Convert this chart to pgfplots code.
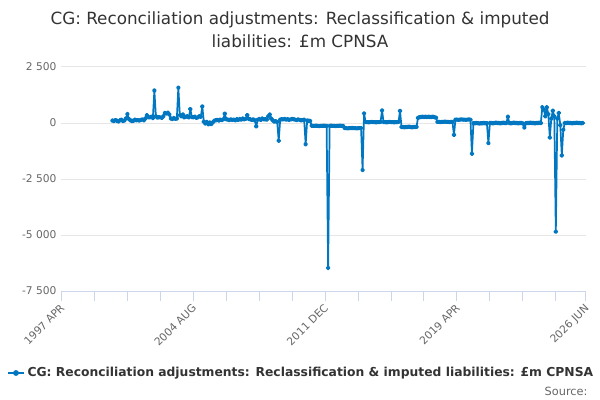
\documentclass[border=0pt]{standalone}
\usepackage{pgfplots}
\pgfplotsset{compat=1.18}
\usepackage{fontspec}
\setmainfont{DejaVu Sans}
\definecolor{serie}{RGB}{0,119,192}
\definecolor{titlec}{RGB}{51,51,51}
\definecolor{labc}{RGB}{102,102,102}
\definecolor{gridc}{RGB}{230,230,230}
\definecolor{axisc}{RGB}{204,214,235}
\begin{document}
\begin{tikzpicture}
\path[use as bounding box] (-46.125pt,-81.75pt) rectangle (403.875pt,218.25pt);
\begin{axis}[
  scale only axis, width=393.2pt, height=168pt,
  xmin=0, xmax=350, ymin=-7500, ymax=2500,
  axis line style={draw=none},
  xtick={0,88,176,264,350},
  xticklabels={1997 APR,2004 AUG,2011 DEC,2019 APR,2026 JUN},
  minor xtick={22,44,66,110,132,154,198,220,242,286,308,330},
  ytick={-7500,-5000,-2500,0,2500},
  yticklabels={-7 500,-5 000,-2 500,0,2 500},
  xtick pos=left, ytick pos=left,
  tick align=outside, major tick length=7.5pt, minor tick length=7.5pt,
  x tick style={draw=axisc, line width=0.75pt},
  minor x tick style={draw=axisc, line width=0.75pt},
  y tick style={draw=none},
  ymajorgrids, major grid style={draw=gridc, line width=0.75pt},
  tick label style={font=\fontsize{8}{9}\selectfont, text=labc},
  x tick label style={rotate=45, anchor=north east, inner sep=1pt, xshift=-1pt, yshift=1pt},
  y tick label style={xshift=7.3pt},
  legend style={at={(0.4577,-0.366)}, anchor=center, draw=none, fill=none,
    font=\bfseries\fontsize{9.25}{11}\selectfont, text=titlec},
  legend image code/.code={\draw[serie, line width=1.3pt] (0pt,0pt) -- (12pt,0pt); \fill[serie] (6pt,0pt) circle (1.5pt);},
]
\draw[axisc, line width=0.75pt] (rel axis cs:0,0) -- (rel axis cs:1,0);
\addplot[color=serie, line width=1.3pt, line join=round, mark=*, mark size=1.1pt, mark options={solid}] coordinates {
(34,110)(35,90)(36,130)(37,100)(38,70)(39,120)(40,150)(41,90)(42,110)(43,200)
(44,400)(45,180)(46,120)(47,90)(48,100)(49,150)(50,120)(51,130)(52,110)(53,140)
(54,160)(55,120)(56,200)(57,350)(58,260)(59,250)(60,280)(61,220)(62,1450)(63,300)
(64,240)(65,260)(66,250)(67,230)(68,300)(69,450)(70,420)(71,460)(72,380)(73,200)
(74,180)(75,220)(76,190)(77,200)(78,1580)(79,350)(80,300)(81,380)(82,250)(83,280)
(84,300)(85,250)(86,620)(87,270)(88,260)(89,280)(90,230)(91,250)(92,300)(93,280)
(94,740)(95,60)(96,-20)(97,50)(98,-60)(99,20)(100,-50)(101,30)(102,100)(103,120)
(104,140)(105,110)(106,150)(107,130)(108,160)(109,420)(110,170)(111,150)(112,130)(113,160)
(114,140)(115,150)(116,120)(117,170)(118,140)(119,180)(120,150)(121,200)(122,160)(123,190)
(124,350)(125,180)(126,170)(127,140)(128,160)(129,120)(130,-150)(131,150)(132,180)(133,140)
(134,200)(135,160)(136,170)(137,150)(138,300)(139,380)(140,200)(141,120)(142,60)(143,80)
(144,50)(145,-790)(146,150)(147,170)(148,160)(149,180)(150,150)(151,170)(152,140)(153,160)
(154,180)(155,170)(156,150)(157,130)(158,160)(159,140)(160,120)(161,130)(162,150)(163,-950)
(164,110)(165,100)(166,90)(167,-120)(168,-130)(169,-130)(170,-120)(171,-130)(172,-140)(173,-130)
(174,-130)(175,-120)(176,-130)(177,-130)(178,-6470)(179,-130)(180,-120)(181,-130)(182,-130)(183,-140)
(184,-130)(185,-130)(186,-120)(187,-130)(188,-130)(189,-230)(190,-230)(191,-240)(192,-230)(193,-230)
(194,-220)(195,-230)(196,-230)(197,-240)(198,-230)(199,-230)(200,-230)(201,-2100)(202,430)(203,40)
(204,40)(205,30)(206,40)(207,50)(208,40)(209,40)(210,30)(211,40)(212,40)(213,50)
(214,560)(215,40)(216,40)(217,30)(218,40)(219,50)(220,40)(221,40)(222,30)(223,40)
(224,40)(225,50)(226,540)(227,-180)(228,-180)(229,-190)(230,-180)(231,-180)(232,-170)(233,-180)
(234,-190)(235,-180)(236,-180)(237,-170)(238,230)(239,260)(240,270)(241,280)(242,270)(243,280)
(244,270)(245,280)(246,270)(247,270)(248,280)(249,260)(250,240)(251,50)(252,50)(253,40)
(254,50)(255,50)(256,60)(257,50)(258,50)(259,40)(260,50)(261,50)(262,-530)(263,150)
(264,150)(265,140)(266,150)(267,160)(268,150)(269,150)(270,140)(271,150)(272,160)(273,150)
(274,-1370)(275,-10)(276,-10)(277,0)(278,-10)(279,-20)(280,-10)(281,-10)(282,0)(283,-10)
(284,-10)(285,-900)(286,0)(287,0)(288,-10)(289,0)(290,10)(291,0)(292,0)(293,-10)
(294,0)(295,10)(296,0)(297,0)(298,280)(299,0)(300,-10)(301,0)(302,10)(303,0)
(304,0)(305,-10)(306,0)(307,0)(308,-20)(309,-200)(310,-10)(311,0)(312,0)(313,10)
(314,0)(315,0)(316,-10)(317,0)(318,0)(319,10)(320,0)(321,700)(322,600)(323,300)
(324,700)(325,400)(326,-650)(327,200)(328,550)(329,300)(330,-4850)(331,200)(332,450)(333,-100)
(334,-1450)(335,-300)(336,0)(337,0)(338,10)(339,0)(340,0)(341,-10)(342,0)(343,0)
(344,10)(345,0)(346,0)(347,-10)(348,0)
};
\addlegendentry{CG: Reconciliation adjustments: Reclassification \& imputed liabilities: £m CPNSA}
\end{axis}
\node[font=\fontsize{12.6}{15}\selectfont, text=titlec] at (178.875pt,203.25pt) {CG: Reconciliation adjustments: Reclassification \& imputed};
\node[font=\fontsize{12.6}{15}\selectfont, text=titlec] at (178.875pt,187.5pt) {liabilities: £m CPNSA};
\node[font=\fontsize{8.5}{9}\selectfont, text=labc, anchor=east] at (398pt,-75pt) {Source:};
\end{tikzpicture}
\end{document}
